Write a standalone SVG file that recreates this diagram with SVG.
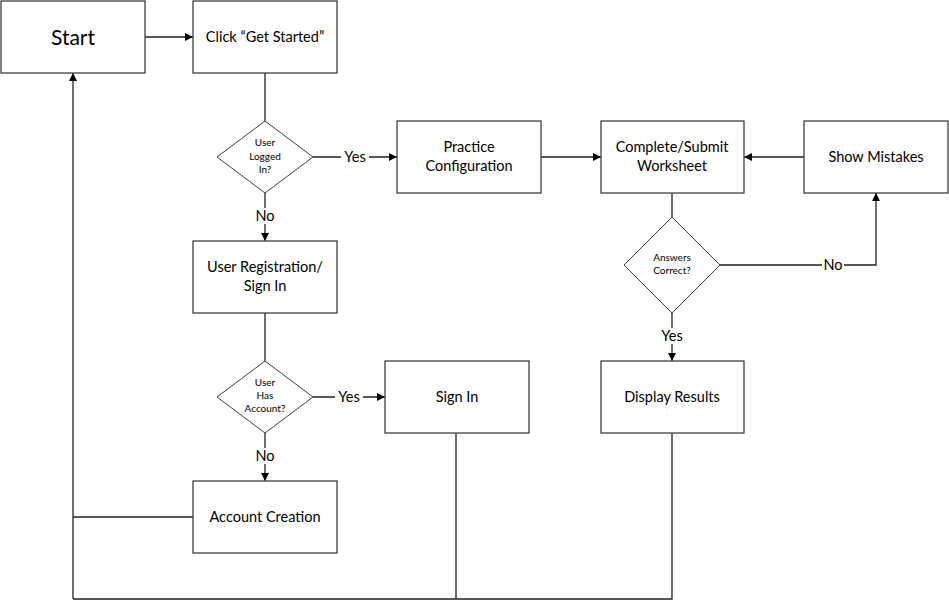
<svg xmlns="http://www.w3.org/2000/svg" width="949" height="601" viewBox="0 0 949 601">
  <defs>
    <marker id="arrow" viewBox="0 0 10 10" refX="10" refY="5" markerWidth="8" markerHeight="8" markerUnits="userSpaceOnUse" orient="auto">
      <path d="M0,0 L10,5 L0,10 Z" fill="#000"/>
    </marker>
    <style>
      .box { fill: #fff; stroke: #404040; stroke-width: 1.3; }
      .dia { fill: #fff; stroke: #404040; stroke-width: 1; }
      .ln { fill: none; stroke: #222; stroke-width: 1.3; }
      .arr { fill: none; stroke: #222; stroke-width: 1.3; marker-end: url(#arrow); }
      text { font-family: Lato, "Liberation Sans", sans-serif; fill: #000; text-anchor: middle; dominant-baseline: central; }
      .t { font-size: 14.5px; }
      .big { font-size: 21px; }
      .sm { font-size: 10px; }
      .lbl { font-size: 14.5px; }
      .bg { fill: #fff; }
    </style>
  </defs>

  <!-- connectors -->
  <g id="connectors">
    <path class="arr" d="M145,37 H193"/>
    <path class="ln" d="M265,73 V121"/>
    <path class="arr" d="M313,157 H397"/>
    <path class="arr" d="M541,157 H601"/>
    <path class="arr" d="M804,157 H744"/>
    <path class="arr" d="M265,193 V241"/>
    <path class="ln" d="M265,313 V361"/>
    <path class="arr" d="M313,397 H385"/>
    <path class="arr" d="M265,433 V481"/>
    <path class="ln" d="M672,193 V217"/>
    <path class="arr" d="M720,265 H876 V193"/>
    <path class="arr" d="M672,313 V361"/>
    <path class="ln" d="M193,517 H73"/>
    <path class="ln" d="M456,433 V599"/>
    <path class="ln" d="M672,433 V599 H73"/>
    <path class="arr" d="M73,599 V73"/>
    <!-- edge labels -->
    <rect class="bg" x="341" y="149" width="28" height="16"/>
    <text class="lbl" x="355" y="156">Yes</text>
    <rect class="bg" x="254" y="208" width="22" height="16"/>
    <text class="lbl" x="265" y="215">No</text>
    <rect class="bg" x="335" y="389" width="28" height="16"/>
    <text class="lbl" x="349" y="396">Yes</text>
    <rect class="bg" x="254" y="448" width="22" height="16"/>
    <text class="lbl" x="265" y="455">No</text>
    <rect class="bg" x="822" y="257" width="22" height="16"/>
    <text class="lbl" x="833" y="264">No</text>
    <rect class="bg" x="658" y="328" width="28" height="16"/>
    <text class="lbl" x="672" y="335">Yes</text>
  </g>

  <g id="start">
    <rect class="box" x="1" y="1" width="144" height="72"/>
    <text class="big" x="73" y="36">Start</text>
  </g>
  <g id="get-started">
    <rect class="box" x="193" y="1" width="144" height="72"/>
    <text class="t" x="265" y="36">Click “Get Started”</text>
  </g>
  <g id="logged-in">
    <polygon class="dia" points="265,121 313,157 265,193 217,157"/>
    <text class="sm" x="265" y="142">User</text>
    <text class="sm" x="265" y="156">Logged</text>
    <text class="sm" x="265" y="169">In?</text>
  </g>
  <g id="practice-config">
    <rect class="box" x="397" y="121" width="144" height="72"/>
    <text class="t" x="469" y="146">Practice</text>
    <text class="t" x="469" y="165">Configuration</text>
  </g>
  <g id="worksheet">
    <rect class="box" x="601" y="121" width="143" height="72"/>
    <text class="t" x="672" y="146">Complete/Submit</text>
    <text class="t" x="672" y="165">Worksheet</text>
  </g>
  <g id="show-mistakes">
    <rect class="box" x="804" y="121" width="144" height="72"/>
    <text class="t" x="876" y="156">Show Mistakes</text>
  </g>
  <g id="registration">
    <rect class="box" x="193" y="241" width="144" height="72"/>
    <text class="t" x="265" y="266">User Registration/</text>
    <text class="t" x="265" y="285">Sign In</text>
  </g>
  <g id="answers-correct">
    <polygon class="dia" points="672,217 720,265 672,313 624,265"/>
    <text class="sm" x="672" y="257">Answers</text>
    <text class="sm" x="672" y="270">Correct?</text>
  </g>
  <g id="has-account">
    <polygon class="dia" points="265,361 313,397 265,433 217,397"/>
    <text class="sm" x="265" y="382">User</text>
    <text class="sm" x="265" y="395">Has</text>
    <text class="sm" x="265" y="408">Account?</text>
  </g>
  <g id="sign-in">
    <rect class="box" x="385" y="361" width="144" height="72"/>
    <text class="t" x="457" y="396">Sign In</text>
  </g>
  <g id="display-results">
    <rect class="box" x="601" y="361" width="143" height="72"/>
    <text class="t" x="672" y="396">Display Results</text>
  </g>
  <g id="account-creation">
    <rect class="box" x="193" y="481" width="144" height="72"/>
    <text class="t" x="265" y="516">Account Creation</text>
  </g>
</svg>
